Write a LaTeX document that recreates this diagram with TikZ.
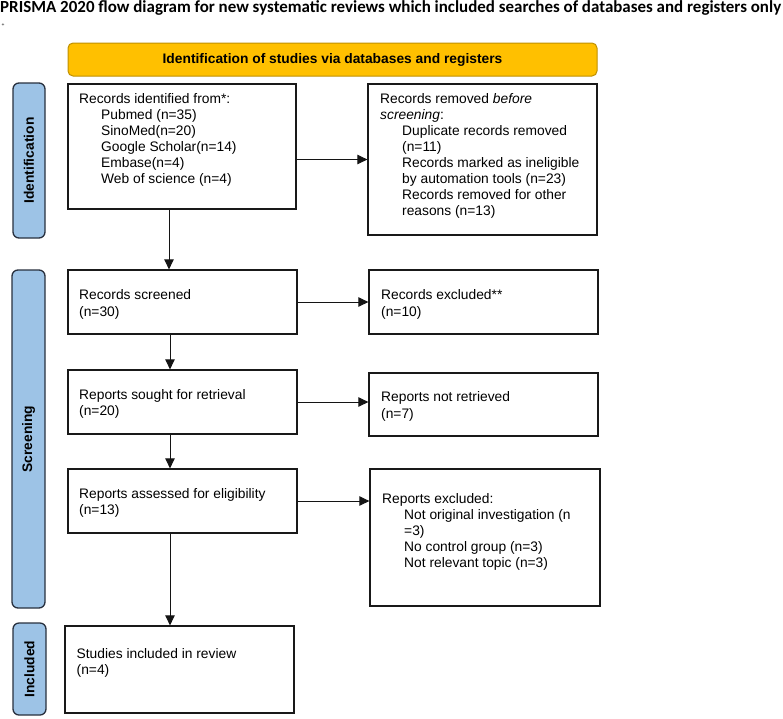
\documentclass[tikz,border=0pt]{standalone}
\usepackage{fontspec}
\setmainfont{Liberation Sans}
\newfontfamily\titlefont{Carlito}
\usepackage{graphicx}
\usetikzlibrary{arrows.meta}
\definecolor{bannerfill}{RGB}{255,192,0}
\definecolor{bannerline}{RGB}{191,144,0}
\definecolor{labfill}{RGB}{157,195,230}
\definecolor{labline}{RGB}{40,48,62}
\definecolor{boxline}{RGB}{25,25,25}
\definecolor{arrline}{RGB}{20,20,20}
\newcommand{\ind}{\hspace*{22pt}}
\begin{document}
\begin{tikzpicture}[x=1pt,y=-1pt,
  box/.style={draw=boxline, line width=1.3pt, inner sep=0pt},
  banner/.style={draw=bannerline, fill=bannerfill, line width=1pt, rounded corners=5pt, inner sep=0pt,
    font=\fontsize{13.8}{16}\selectfont\bfseries},
  sidelab/.style={draw=labline, fill=labfill, line width=1.3pt, rounded corners=6pt, inner sep=0pt},
  sidetxt/.style={rotate=90, inner sep=0pt, font=\fontsize{13.8}{16}\selectfont\bfseries},
  txt/.style={anchor=base west, inner sep=0pt, font=\fontsize{13.8}{16}\selectfont},
  arr/.style={draw=arrline, line width=0.9pt, -{Triangle[length=10pt,width=9.5pt]}}]
\useasboundingbox (0,0) rectangle (783,718);

% title
\node[anchor=base west, inner sep=0pt] (title) at (0,12)
  {\resizebox{781pt}{!}{\titlefont\bfseries\fontsize{15.5}{18}\selectfont PRISMA 2020 flow diagram for new systematic reviews which included searches of databases and registers only}};
\node[inner sep=0pt, font=\fontsize{5}{5}\selectfont] (plus) at (3,25) {+};

% banner
\node[banner, minimum width=529pt, minimum height=33pt] (banner) at (332.5,59.5)
  {Identification of studies via databases and registers};

% side labels
\node[sidelab, minimum width=32pt, minimum height=155pt] (lab1) at (29,160.5) {};
\node[sidetxt] (lab1t) at (lab1.center) {Identification};
\node[sidelab, minimum width=33pt, minimum height=338pt] (lab2) at (28.5,439) {};
\node[sidetxt] (lab2t) at (lab2.center) {Screening};
\node[sidelab, minimum width=33pt, minimum height=92pt] (lab3) at (29.5,669) {};
\node[sidetxt] (lab3t) at (lab3.center) {Included};

% boxes
\node[box, minimum width=228pt, minimum height=125pt] (b1) at (182,146.5) {};
\node[box, minimum width=229pt, minimum height=151pt] (b2) at (482.5,159.5) {};
\node[box, minimum width=229pt, minimum height=64pt] (b3) at (182.5,302) {};
\node[box, minimum width=229pt, minimum height=64pt] (b4) at (483.5,302) {};
\node[box, minimum width=229pt, minimum height=64pt] (b5) at (182.5,402) {};
\node[box, minimum width=229pt, minimum height=63pt] (b6) at (483.5,404.5) {};
\node[box, minimum width=229pt, minimum height=64pt] (b7) at (182.5,501) {};
\node[box, minimum width=230pt, minimum height=137pt] (b8) at (485,537.5) {};
\node[box, minimum width=229pt, minimum height=87pt] (b9) at (179.5,669.5) {};

% texts
\node[txt] (t1) at (79,103.5) {\begin{tabular}[t]{@{}l@{}}Records identified from*:\\
  \ind Pubmed (n=35)\\ \ind SinoMed(n=20)\\ \ind Google Scholar(n=14)\\ \ind Embase(n=4)\\ \ind Web of science (n=4)\end{tabular}};
\node[txt] (t2) at (380,103.5) {\begin{tabular}[t]{@{}l@{}}Records removed \textit{before}\\ \textit{screening}:\\
  \ind Duplicate records removed\\ \ind (n=11)\\ \ind Records marked as ineligible\\ \ind by automation tools (n=23)\\
  \ind Records removed for other\\ \ind reasons (n=13)\end{tabular}};
\node[txt] (t3) at (79,299) {\begin{tabular}[t]{@{}l@{}}Records screened\\[1pt] (n=30)\end{tabular}};
\node[txt] (t4) at (381,299) {\begin{tabular}[t]{@{}l@{}}Records excluded**\\[1pt] (n=10)\end{tabular}};
\node[txt] (t5) at (79,399.5) {\begin{tabular}[t]{@{}l@{}}Reports sought for retrieval\\ (n=20)\end{tabular}};
\node[txt] (t6) at (381,401.5) {\begin{tabular}[t]{@{}l@{}}Reports not retrieved\\[1pt] (n=7)\end{tabular}};
\node[txt] (t7) at (79,498.5) {\begin{tabular}[t]{@{}l@{}}Reports assessed for eligibility\\ (n=13)\end{tabular}};
\node[txt] (t8) at (382,503) {\begin{tabular}[t]{@{}l@{}}Reports excluded:\\
  \ind Not original investigation (n\\ \ind =3)\\ \ind No control group (n=3)\\ \ind Not relevant topic (n=3)\end{tabular}};
\node[txt] (t9) at (76.5,658.5) {\begin{tabular}[t]{@{}l@{}}Studies included in review\\ (n=4)\end{tabular}};

% connectors
\draw[arr] (b2.west -| b1.east) -- (b2.west);
\draw[arr] (169,0 |- b1.south) -- (169,0 |- b3.north);
\draw[arr] (b3.east) -- (b3.east -| b4.west);
\draw[arr] (170,0 |- b3.south) -- (170,0 |- b5.north);
\draw[arr] (b5.east) -- (b5.east -| b6.west);
\draw[arr] (170,0 |- b5.south) -- (170,0 |- b7.north);
\draw[arr] (b7.east) -- (b7.east -| b8.west);
\draw[arr] (170,0 |- b7.south) -- (170,0 |- b9.north);
\end{tikzpicture}
\end{document}
